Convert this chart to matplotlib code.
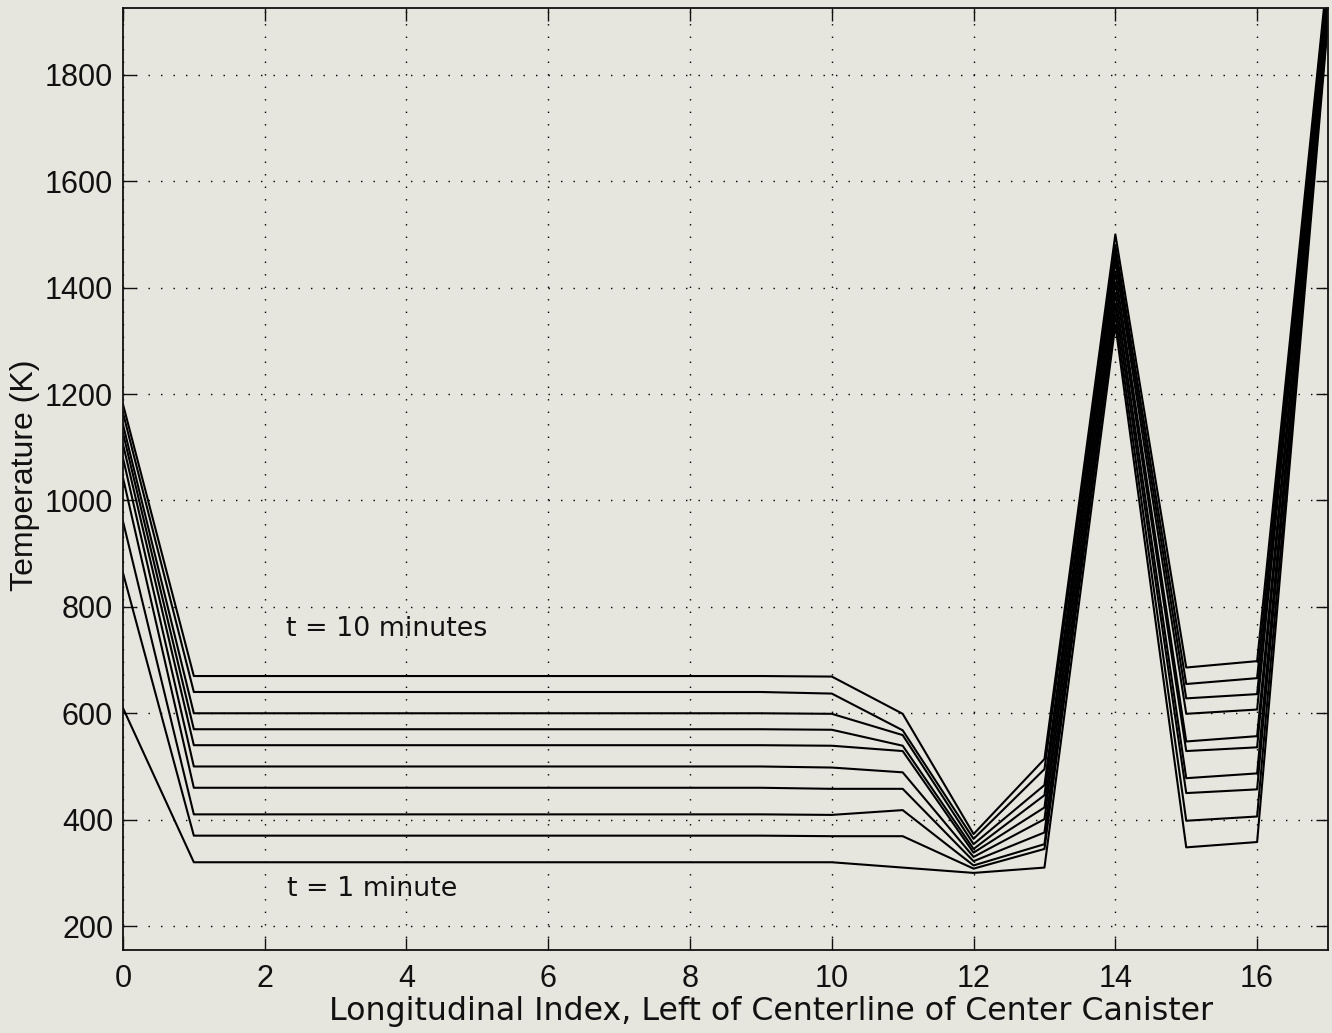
import matplotlib
matplotlib.use("Agg")
import matplotlib.pyplot as plt
import numpy as np

plt.rcParams['font.family'] = ['Liberation Sans', 'DejaVu Sans']

# longitudinal index 0..17
index = np.arange(18)

# temperature profiles (K), one per minute
temp_t1 = [610, 320, 320, 320, 320, 320, 320, 320, 320, 320, 320, 310, 300, 310, 1330, 348, 358, 1900]
temp_t2 = [864, 370, 370, 370, 370, 370, 370, 370, 370, 370, 369, 369, 308, 345, 1350, 398, 406, 1910]
temp_t3 = [961, 410, 410, 410, 410, 410, 410, 410, 410, 410, 409, 418, 314, 354, 1370, 450, 457, 1920]
temp_t4 = [1043, 460, 460, 460, 460, 460, 460, 460, 460, 460, 458, 458, 322, 376, 1390, 478, 487, 1930]
temp_t5 = [1080, 500, 500, 500, 500, 500, 500, 500, 500, 500, 498, 489, 330, 401, 1410, 529, 536, 1940]
temp_t6 = [1106, 540, 540, 540, 540, 540, 540, 540, 540, 540, 539, 529, 338, 423, 1430, 547, 557, 1950]
temp_t7 = [1127, 570, 570, 570, 570, 570, 570, 570, 570, 570, 569, 539, 345, 446, 1450, 599, 607, 1960]
temp_t8 = [1143, 600, 600, 600, 600, 600, 600, 600, 600, 600, 599, 559, 354, 465, 1465, 628, 636, 1970]
temp_t9 = [1165, 640, 640, 640, 640, 640, 640, 640, 640, 640, 637, 568, 364, 495, 1480, 655, 666, 1985]
temp_t10 = [1181, 670, 670, 670, 670, 670, 670, 670, 670, 670, 669, 599, 373, 514, 1500, 686, 698, 2000]

profiles = [temp_t1, temp_t2, temp_t3, temp_t4, temp_t5,
            temp_t6, temp_t7, temp_t8, temp_t9, temp_t10]

bg = '#e6e6de'
fig = plt.figure(figsize=(13.32, 10.33), dpi=100, facecolor=bg)
ax = fig.add_axes([0.0923, 0.0803, 0.9047, 0.9117])
ax.set_facecolor(bg)

for prof in profiles:
    ax.plot(index, prof, color='black', linewidth=1.5)

ax.set_xlim(0, 17)
ax.set_ylim(155, 1925)
ax.set_xticks(np.arange(0, 17, 2))
ax.set_yticks(np.arange(200, 1801, 200))

ax.grid(True, color='black', linestyle=(0, (1, 8)), linewidth=1.0)
ax.tick_params(direction='in', length=9, width=1, top=True, right=True,
               labelsize=22, colors='#111111')
ax.tick_params(axis='x', pad=10)
ax.tick_params(axis='y', pad=7)
for s in ax.spines.values():
    s.set_linewidth(1.3)
    s.set_color('#111111')

# the wide lettering of the labels is closer to DejaVu's proportions
ax.set_xlabel('Longitudinal Index, Left of Centerline of Center Canister',
              fontsize=22.8, color='#111111', family=['DejaVu Sans'])
ax.set_ylabel('Temperature (K)', fontsize=23, color='#111111')
ax.xaxis.set_label_coords(0.538, -0.049)
ax.yaxis.set_label_coords(-0.069, 0.504)

ax.text(2.3, 758, 't = 10 minutes', fontsize=19.4, va='center', ha='left',
        color='#111111', family=['DejaVu Sans'])
ax.text(2.32, 269, 't = 1 minute', fontsize=19.4, va='center', ha='left',
        color='#111111', family=['DejaVu Sans'])

fig.savefig('out.png', dpi=100, facecolor=bg)
